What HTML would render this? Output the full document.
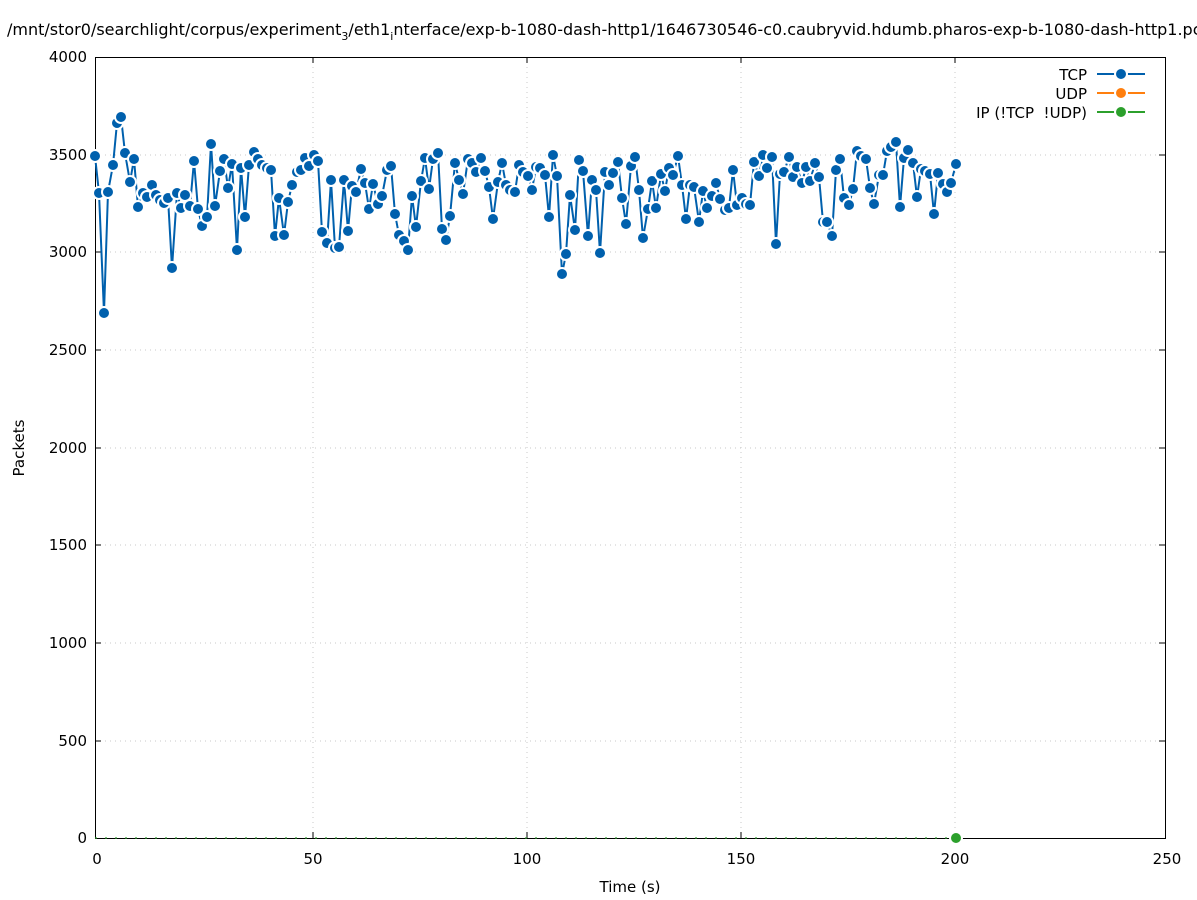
<!DOCTYPE html>
<html><head><meta charset="utf-8"><style>
html,body{margin:0;padding:0;background:#fff;}
svg{display:block;font-family:"DejaVu Sans","Liberation Sans",sans-serif;}
</style></head><body>
<svg width="1197" height="900" viewBox="0 0 1197 900" xmlns="http://www.w3.org/2000/svg">
<defs><circle id="m" r="6" fill="#0060ad" stroke="#fff" stroke-width="2"/></defs>
<rect width="1197" height="900" fill="#fff"/>
<text x="7" y="35" font-size="16" fill="#000">/mnt/stor0/searchlight/corpus/experiment<tspan font-size="11" dy="5">3</tspan><tspan dy="-5">/eth1</tspan><tspan font-size="11" dy="5">i</tspan><tspan dy="-5">nterface/exp-b-1080-dash-http1/1646730546-c0.caubryvid.hdumb.pharos-exp-b-1080-dash-http1.pcap</tspan></text>
<g stroke="#c8c8c8" stroke-width="1" stroke-dasharray="1,4">
<line x1="95" y1="741" x2="1165" y2="741"/><line x1="95" y1="643" x2="1165" y2="643"/><line x1="95" y1="545" x2="1165" y2="545"/><line x1="95" y1="448" x2="1165" y2="448"/><line x1="95" y1="350" x2="1165" y2="350"/><line x1="95" y1="252" x2="1165" y2="252"/><line x1="95" y1="155" x2="1165" y2="155"/>
<line x1="313" y1="57" x2="313" y2="838"/><line x1="527" y1="57" x2="527" y2="838"/><line x1="741" y1="57" x2="741" y2="838"/><line x1="955" y1="57" x2="955" y2="838"/>
</g>
<g stroke="#000" stroke-width="1">
<rect x="95.5" y="57.5" width="1070" height="781" fill="none"/>
<line x1="95" y1="741" x2="101" y2="741"/><line x1="95" y1="643" x2="101" y2="643"/><line x1="95" y1="545" x2="101" y2="545"/><line x1="95" y1="448" x2="101" y2="448"/><line x1="95" y1="350" x2="101" y2="350"/><line x1="95" y1="252" x2="101" y2="252"/><line x1="95" y1="155" x2="101" y2="155"/>
<line x1="1159" y1="741" x2="1165" y2="741"/><line x1="1159" y1="643" x2="1165" y2="643"/><line x1="1159" y1="545" x2="1165" y2="545"/><line x1="1159" y1="448" x2="1165" y2="448"/><line x1="1159" y1="350" x2="1165" y2="350"/><line x1="1159" y1="252" x2="1165" y2="252"/><line x1="1159" y1="155" x2="1165" y2="155"/>
<line x1="313" y1="838" x2="313" y2="832"/><line x1="527" y1="838" x2="527" y2="832"/><line x1="741" y1="838" x2="741" y2="832"/><line x1="955" y1="838" x2="955" y2="832"/>
<line x1="313" y1="57" x2="313" y2="63"/><line x1="527" y1="57" x2="527" y2="63"/><line x1="741" y1="57" x2="741" y2="63"/><line x1="955" y1="57" x2="955" y2="63"/>
</g>
<g font-size="15" fill="#000" text-anchor="end">
<text x="87" y="843">0</text><text x="87" y="746">500</text><text x="87" y="648">1000</text><text x="87" y="550">1500</text><text x="87" y="453">2000</text><text x="87" y="355">2500</text><text x="87" y="257">3000</text><text x="87" y="160">3500</text><text x="87" y="62">4000</text>
</g>
<g font-size="15" fill="#000" text-anchor="middle">
<text x="97" y="864">0</text><text x="313" y="864">50</text><text x="527" y="864">100</text><text x="741" y="864">150</text><text x="955" y="864">200</text><text x="1167" y="864">250</text>
<text x="630" y="892">Time (s)</text>
<text transform="translate(24,448) rotate(-90)">Packets</text>
</g>
<line x1="95" y1="838" x2="956" y2="838" stroke="#2ca02c" stroke-width="2" stroke-dasharray="2,8" opacity="0.6"/>
<polyline fill="none" stroke="#0060ad" stroke-width="2" points="95,156 99,193 104,313 108,192 113,165 117,123 121,117 125,153 130,182 134,159 138,207 143,193 147,197 152,185 156,195 160,200 164,203 168,198 172,268 177,193 181,208 185,195 190,206 194,161 198,209 202,226 207,217 211,144 215,206 220,171 224,159 228,188 232,164 237,250 241,168 245,217 249,165 254,152 258,159 262,165 267,168 271,170 275,236 279,198 284,235 288,202 292,185 297,172 301,170 305,158 309,166 314,155 318,161 322,232 327,243 331,180 335,248 339,247 344,180 348,231 352,186 356,192 361,169 365,183 369,209 373,184 378,204 382,196 387,170 391,166 395,214 399,235 404,241 408,250 412,196 416,227 421,181 425,158 429,189 433,159 438,153 442,229 446,240 450,216 455,163 459,180 463,194 468,159 472,163 476,172 481,158 485,171 489,187 493,219 498,182 502,163 506,185 510,190 515,192 519,165 523,172 528,176 532,190 536,167 540,168 545,175 549,217 553,155 557,176 562,274 566,254 570,195 575,230 579,160 583,171 588,236 592,180 596,190 600,253 605,172 609,185 613,173 618,162 622,198 626,224 631,166 635,157 639,190 643,238 648,209 652,181 656,208 661,174 665,191 669,168 673,175 678,156 682,185 686,219 690,185 694,187 699,222 703,191 707,208 712,196 716,183 720,199 725,210 729,208 733,170 737,205 742,198 746,204 750,205 754,162 759,176 763,155 767,168 772,157 776,244 780,174 784,172 789,157 793,177 797,167 802,183 806,167 810,181 815,163 819,177 823,222 827,222 832,236 836,170 840,159 844,198 849,205 853,189 857,151 861,156 866,159 870,188 874,204 879,175 883,175 887,151 891,147 896,142 900,207 904,158 908,150 913,163 917,197 921,169 925,171 930,174 934,214 938,173 943,184 947,192 951,183 956,164"/>
<g>
<use href="#m" x="95" y="156"/><use href="#m" x="99" y="193"/><use href="#m" x="104" y="313"/><use href="#m" x="108" y="192"/><use href="#m" x="113" y="165"/><use href="#m" x="117" y="123"/><use href="#m" x="121" y="117"/><use href="#m" x="125" y="153"/><use href="#m" x="130" y="182"/><use href="#m" x="134" y="159"/><use href="#m" x="138" y="207"/><use href="#m" x="143" y="193"/><use href="#m" x="147" y="197"/><use href="#m" x="152" y="185"/><use href="#m" x="156" y="195"/><use href="#m" x="160" y="200"/><use href="#m" x="164" y="203"/><use href="#m" x="168" y="198"/><use href="#m" x="172" y="268"/><use href="#m" x="177" y="193"/><use href="#m" x="181" y="208"/><use href="#m" x="185" y="195"/><use href="#m" x="190" y="206"/><use href="#m" x="194" y="161"/><use href="#m" x="198" y="209"/><use href="#m" x="202" y="226"/><use href="#m" x="207" y="217"/><use href="#m" x="211" y="144"/><use href="#m" x="215" y="206"/><use href="#m" x="220" y="171"/><use href="#m" x="224" y="159"/><use href="#m" x="228" y="188"/><use href="#m" x="232" y="164"/><use href="#m" x="237" y="250"/><use href="#m" x="241" y="168"/><use href="#m" x="245" y="217"/><use href="#m" x="249" y="165"/><use href="#m" x="254" y="152"/><use href="#m" x="258" y="159"/><use href="#m" x="262" y="165"/><use href="#m" x="267" y="168"/><use href="#m" x="271" y="170"/><use href="#m" x="275" y="236"/><use href="#m" x="279" y="198"/><use href="#m" x="284" y="235"/><use href="#m" x="288" y="202"/><use href="#m" x="292" y="185"/><use href="#m" x="297" y="172"/><use href="#m" x="301" y="170"/><use href="#m" x="305" y="158"/><use href="#m" x="309" y="166"/><use href="#m" x="314" y="155"/><use href="#m" x="318" y="161"/><use href="#m" x="322" y="232"/><use href="#m" x="327" y="243"/><use href="#m" x="331" y="180"/><use href="#m" x="335" y="248"/><use href="#m" x="339" y="247"/><use href="#m" x="344" y="180"/><use href="#m" x="348" y="231"/><use href="#m" x="352" y="186"/><use href="#m" x="356" y="192"/><use href="#m" x="361" y="169"/><use href="#m" x="365" y="183"/><use href="#m" x="369" y="209"/><use href="#m" x="373" y="184"/><use href="#m" x="378" y="204"/><use href="#m" x="382" y="196"/><use href="#m" x="387" y="170"/><use href="#m" x="391" y="166"/><use href="#m" x="395" y="214"/><use href="#m" x="399" y="235"/><use href="#m" x="404" y="241"/><use href="#m" x="408" y="250"/><use href="#m" x="412" y="196"/><use href="#m" x="416" y="227"/><use href="#m" x="421" y="181"/><use href="#m" x="425" y="158"/><use href="#m" x="429" y="189"/><use href="#m" x="433" y="159"/><use href="#m" x="438" y="153"/><use href="#m" x="442" y="229"/><use href="#m" x="446" y="240"/><use href="#m" x="450" y="216"/><use href="#m" x="455" y="163"/><use href="#m" x="459" y="180"/><use href="#m" x="463" y="194"/><use href="#m" x="468" y="159"/><use href="#m" x="472" y="163"/><use href="#m" x="476" y="172"/><use href="#m" x="481" y="158"/><use href="#m" x="485" y="171"/><use href="#m" x="489" y="187"/><use href="#m" x="493" y="219"/><use href="#m" x="498" y="182"/><use href="#m" x="502" y="163"/><use href="#m" x="506" y="185"/><use href="#m" x="510" y="190"/><use href="#m" x="515" y="192"/><use href="#m" x="519" y="165"/><use href="#m" x="523" y="172"/><use href="#m" x="528" y="176"/><use href="#m" x="532" y="190"/><use href="#m" x="536" y="167"/><use href="#m" x="540" y="168"/><use href="#m" x="545" y="175"/><use href="#m" x="549" y="217"/><use href="#m" x="553" y="155"/><use href="#m" x="557" y="176"/><use href="#m" x="562" y="274"/><use href="#m" x="566" y="254"/><use href="#m" x="570" y="195"/><use href="#m" x="575" y="230"/><use href="#m" x="579" y="160"/><use href="#m" x="583" y="171"/><use href="#m" x="588" y="236"/><use href="#m" x="592" y="180"/><use href="#m" x="596" y="190"/><use href="#m" x="600" y="253"/><use href="#m" x="605" y="172"/><use href="#m" x="609" y="185"/><use href="#m" x="613" y="173"/><use href="#m" x="618" y="162"/><use href="#m" x="622" y="198"/><use href="#m" x="626" y="224"/><use href="#m" x="631" y="166"/><use href="#m" x="635" y="157"/><use href="#m" x="639" y="190"/><use href="#m" x="643" y="238"/><use href="#m" x="648" y="209"/><use href="#m" x="652" y="181"/><use href="#m" x="656" y="208"/><use href="#m" x="661" y="174"/><use href="#m" x="665" y="191"/><use href="#m" x="669" y="168"/><use href="#m" x="673" y="175"/><use href="#m" x="678" y="156"/><use href="#m" x="682" y="185"/><use href="#m" x="686" y="219"/><use href="#m" x="690" y="185"/><use href="#m" x="694" y="187"/><use href="#m" x="699" y="222"/><use href="#m" x="703" y="191"/><use href="#m" x="707" y="208"/><use href="#m" x="712" y="196"/><use href="#m" x="716" y="183"/><use href="#m" x="720" y="199"/><use href="#m" x="725" y="210"/><use href="#m" x="729" y="208"/><use href="#m" x="733" y="170"/><use href="#m" x="737" y="205"/><use href="#m" x="742" y="198"/><use href="#m" x="746" y="204"/><use href="#m" x="750" y="205"/><use href="#m" x="754" y="162"/><use href="#m" x="759" y="176"/><use href="#m" x="763" y="155"/><use href="#m" x="767" y="168"/><use href="#m" x="772" y="157"/><use href="#m" x="776" y="244"/><use href="#m" x="780" y="174"/><use href="#m" x="784" y="172"/><use href="#m" x="789" y="157"/><use href="#m" x="793" y="177"/><use href="#m" x="797" y="167"/><use href="#m" x="802" y="183"/><use href="#m" x="806" y="167"/><use href="#m" x="810" y="181"/><use href="#m" x="815" y="163"/><use href="#m" x="819" y="177"/><use href="#m" x="823" y="222"/><use href="#m" x="827" y="222"/><use href="#m" x="832" y="236"/><use href="#m" x="836" y="170"/><use href="#m" x="840" y="159"/><use href="#m" x="844" y="198"/><use href="#m" x="849" y="205"/><use href="#m" x="853" y="189"/><use href="#m" x="857" y="151"/><use href="#m" x="861" y="156"/><use href="#m" x="866" y="159"/><use href="#m" x="870" y="188"/><use href="#m" x="874" y="204"/><use href="#m" x="879" y="175"/><use href="#m" x="883" y="175"/><use href="#m" x="887" y="151"/><use href="#m" x="891" y="147"/><use href="#m" x="896" y="142"/><use href="#m" x="900" y="207"/><use href="#m" x="904" y="158"/><use href="#m" x="908" y="150"/><use href="#m" x="913" y="163"/><use href="#m" x="917" y="197"/><use href="#m" x="921" y="169"/><use href="#m" x="925" y="171"/><use href="#m" x="930" y="174"/><use href="#m" x="934" y="214"/><use href="#m" x="938" y="173"/><use href="#m" x="943" y="184"/><use href="#m" x="947" y="192"/><use href="#m" x="951" y="183"/><use href="#m" x="956" y="164"/>
</g>
<circle cx="956" cy="838" r="6" fill="#2ca02c" stroke="#fff" stroke-width="2"/>
<g font-size="15" fill="#000" text-anchor="end">
<text x="1087" y="80">TCP</text><text x="1087" y="99">UDP</text><text x="1087" y="118" xml:space="preserve">IP (!TCP  !UDP)</text>
</g>
<g stroke-width="2">
<line x1="1097" y1="74" x2="1145" y2="74" stroke="#0060ad"/><circle cx="1121" cy="74" r="6" fill="#0060ad" stroke="#fff"/>
<line x1="1097" y1="93" x2="1145" y2="93" stroke="#ff7f0e"/><circle cx="1121" cy="93" r="6" fill="#ff7f0e" stroke="#fff"/>
<line x1="1097" y1="112" x2="1145" y2="112" stroke="#2ca02c"/><circle cx="1121" cy="112" r="6" fill="#2ca02c" stroke="#fff"/>
</g>
</svg>
</body></html>
